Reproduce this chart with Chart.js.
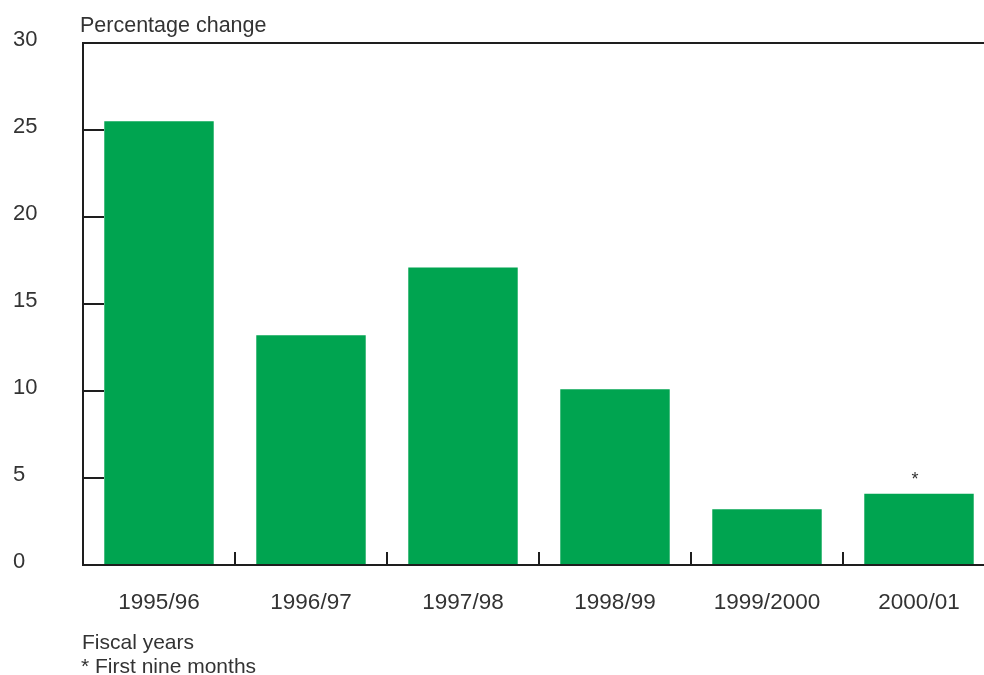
<!DOCTYPE html>
<html>
<head>
<meta charset="utf-8">
<script src="https://cdn.jsdelivr.net/npm/chart.js@4/dist/chart.umd.min.js"></script>
<style>
  html, body { margin: 0; padding: 0; background: #fff; overflow: hidden; }
  #wrap { width: 984px; height: 675px; overflow: hidden; position: relative; }
  #box { width: 1000px; height: 675px; position: absolute; left: 0; top: 0; }
</style>
</head>
<body>
<div id="wrap"><div id="box"><canvas id="c"></canvas></div></div>
<script>
// Fiscal years and annual percentage change
const fiscalYears = ['1995/96', '1996/97', '1997/98', '1998/99', '1999/2000', '2000/01'];
const percentChange = [25.5, 13.2, 17.1, 10.1, 3.2, 4.1];
const yTicks = [0, 5, 10, 15, 20, 25, 30];
const starredYear = '2000/01';

const FONT = "'Liberation Sans', Arial, Helvetica, sans-serif";
const TEXT = '#333333';
const LINE = '#1e1e1e';

// Frame, inward tick marks and annotations drawn from the scales
const framePlugin = {
  id: 'frame',
  beforeDatasetsDraw(chart) {
    const { ctx, chartArea: a, scales: { y } } = chart;
    ctx.save();
    ctx.strokeStyle = LINE;
    ctx.lineWidth = 2;
    yTicks.forEach(v => {
      if (v === 0 || v === 30) return;
      const py = Math.round(y.getPixelForValue(v));
      ctx.beginPath();
      ctx.moveTo(a.left, py);
      ctx.lineTo(a.left + 21, py);
      ctx.stroke();
    });
    ctx.restore();
  },
  afterDatasetsDraw(chart) {
    const { ctx, chartArea: a, scales: { x, y } } = chart;
    ctx.save();
    ctx.strokeStyle = LINE;
    ctx.lineWidth = 2;
    const top = Math.round(y.getPixelForValue(30));
    const bottom = Math.round(y.getPixelForValue(0));
    ctx.beginPath();
    ctx.moveTo(a.right, top);
    ctx.lineTo(a.left, top);
    ctx.lineTo(a.left, bottom);
    ctx.lineTo(a.right, bottom);
    ctx.stroke();
    // category boundary ticks on the bottom axis
    for (let i = 1; i < fiscalYears.length; i++) {
      const px = Math.round((x.getPixelForValue(i - 1) + x.getPixelForValue(i)) / 2);
      ctx.beginPath();
      ctx.moveTo(px, bottom);
      ctx.lineTo(px, bottom - 13);
      ctx.stroke();
    }
    // annotations
    ctx.fillStyle = TEXT;
    ctx.font = '21.5px ' + FONT;
    ctx.textAlign = 'left';
    ctx.textBaseline = 'alphabetic';
    ctx.fillText('Percentage change', 80, 32);
    ctx.font = '21px ' + FONT;
    ctx.fillText('Fiscal years', 82, 649);
    ctx.fillText('* First nine months', 81, 673);
    // asterisk above the partial-year bar
    const idx = fiscalYears.indexOf(starredYear);
    const bar = chart.getDatasetMeta(0).data[idx];
    ctx.textAlign = 'center';
    ctx.font = '18px ' + FONT;
    ctx.fillText('*', bar.x - 4, bar.y - 9);
    ctx.restore();
  }
};

new Chart(document.getElementById('c'), {
  type: 'bar',
  data: {
    labels: fiscalYears,
    datasets: [{
      data: percentChange,
      backgroundColor: '#00a450',
      borderWidth: 0,
      categoryPercentage: 1,
      barPercentage: 0.72
    }]
  },
  options: {
    responsive: true,
    maintainAspectRatio: false,
    animation: false,
    layout: { padding: { left: 13, top: 43, right: 5, bottom: 0 } },
    plugins: { legend: { display: false }, tooltip: { enabled: false } },
    scales: {
      x: {
        grid: { display: false },
        border: { display: false },
        ticks: {
          color: TEXT,
          font: { family: FONT, size: 22.5 },
          padding: 16,
          maxRotation: 0,
          autoSkip: false
        },
        afterFit(scale) { scale.height = 110; }
      },
      y: {
        min: 0,
        max: 30,
        grid: { display: false },
        border: { display: false },
        afterBuildTicks(scale) { scale.ticks = yTicks.map(v => ({ value: v })); },
        ticks: {
          color: TEXT,
          font: { family: FONT, size: 22 },
          crossAlign: 'far',
          padding: 0,
          labelOffset: -3
        },
        afterFit(scale) { scale.width = 70; }
      }
    }
  },
  plugins: [framePlugin]
});
</script>
</body>
</html>
